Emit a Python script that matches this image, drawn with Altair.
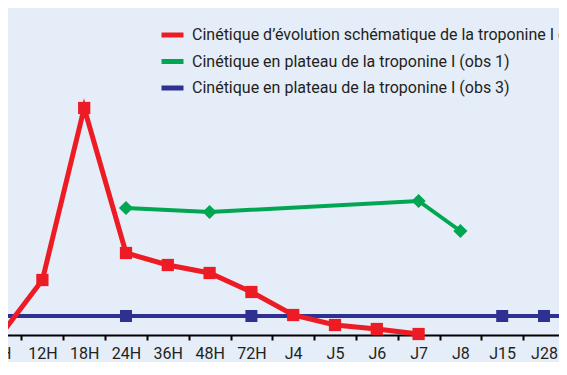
import altair as alt
import pandas as pd

cats = ["6H", "12H", "18H", "24H", "36H", "48H", "72H", "J4", "J5", "J6", "J7", "J8", "J15", "J28", "J30"]

red_name = "Cinétique d’évolution schématique de la troponine I cardiaque"
green_name = "Cinétique en plateau de la troponine I (obs 1)"
blue_name = "Cinétique en plateau de la troponine I (obs 3)"

red_cats = ["6H", "12H", "18H", "24H", "36H", "48H", "72H", "J4", "J5", "J6", "J7"]
red_vals = [0.0, 5.5, 22.7, 8.2, 7.0, 6.2, 4.3, 2.0, 1.0, 0.6, 0.1]

green_cats = ["24H", "48H", "J7", "J8"]
green_vals = [12.7, 12.3, 13.4, 10.4]

blue_cats = ["6H", "24H", "72H", "J15", "J28", "J30"]
blue_vals = [1.9, 1.9, 1.9, 1.9, 1.9, 1.9]

series = [red_name, green_name, blue_name]
colors = ["#ed1c24", "#00a651", "#2e3192"]

def frame(c, v, name):
    return pd.DataFrame({"cat": c, "val": v, "series": name})

red_df = frame(red_cats, red_vals, red_name)
green_df = frame(green_cats, green_vals, green_name)
blue_df = frame(blue_cats, blue_vals, blue_name)

W = 551
H = 327
step = 41.8
r0 = -28.3
r1 = r0 + step * len(cats)

x_enc = alt.X(
    "cat:O",
    scale=alt.Scale(type="band", domain=cats, range=[r0, r1], paddingInner=0, paddingOuter=0),
    axis=alt.Axis(
        title=None, tickBand="extent", labelAngle=0, domainColor="#000000", domainWidth=2,
        tickColor="#000000", tickWidth=2, tickSize=5, labelFont="Roboto", labelFontSize=16,
        labelColor="#231f20", labelPadding=5, grid=False, labelOverlap=False,
    ),
)
y_enc = alt.Y("val:Q", scale=alt.Scale(domain=[0, 32.7], nice=False, zero=False), axis=None)
color_enc = alt.Color(
    "series:N",
    scale=alt.Scale(domain=series, range=colors),
    legend=alt.Legend(
        title=None, orient="none", legendX=151, legendY=13.5, symbolType="stroke",
        symbolStrokeWidth=5, symbolSize=484, labelFont="Roboto", labelFontSize=16,
        labelColor="#231f20", labelOffset=6, rowPadding=2.5, padding=0, labelLimit=2000,
    ),
)

def layer(df, color, width, shape, size):
    line = alt.Chart(df).mark_line(strokeWidth=width).encode(x=x_enc, y=y_enc, color=color_enc)
    pts = alt.Chart(df).mark_point(shape=shape, size=size, filled=True, opacity=1, color=color).encode(x=x_enc, y=y_enc)
    return line + pts

chart = alt.layer(
    layer(blue_df, colors[2], 4, "square", 144),
    layer(green_df, colors[1], 4, "diamond", 200),
    layer(red_df, colors[0], 5, "square", 150),
).properties(
    width=W, height=H,
    autosize=alt.AutoSizeParams(type="none"),
    padding={"left": 0, "top": 0, "right": 0, "bottom": 27},
    background="#e5edf8",
).configure_view(stroke=None)

chart.save("out.html", embed_options={"renderer": "svg", "actions": False})
